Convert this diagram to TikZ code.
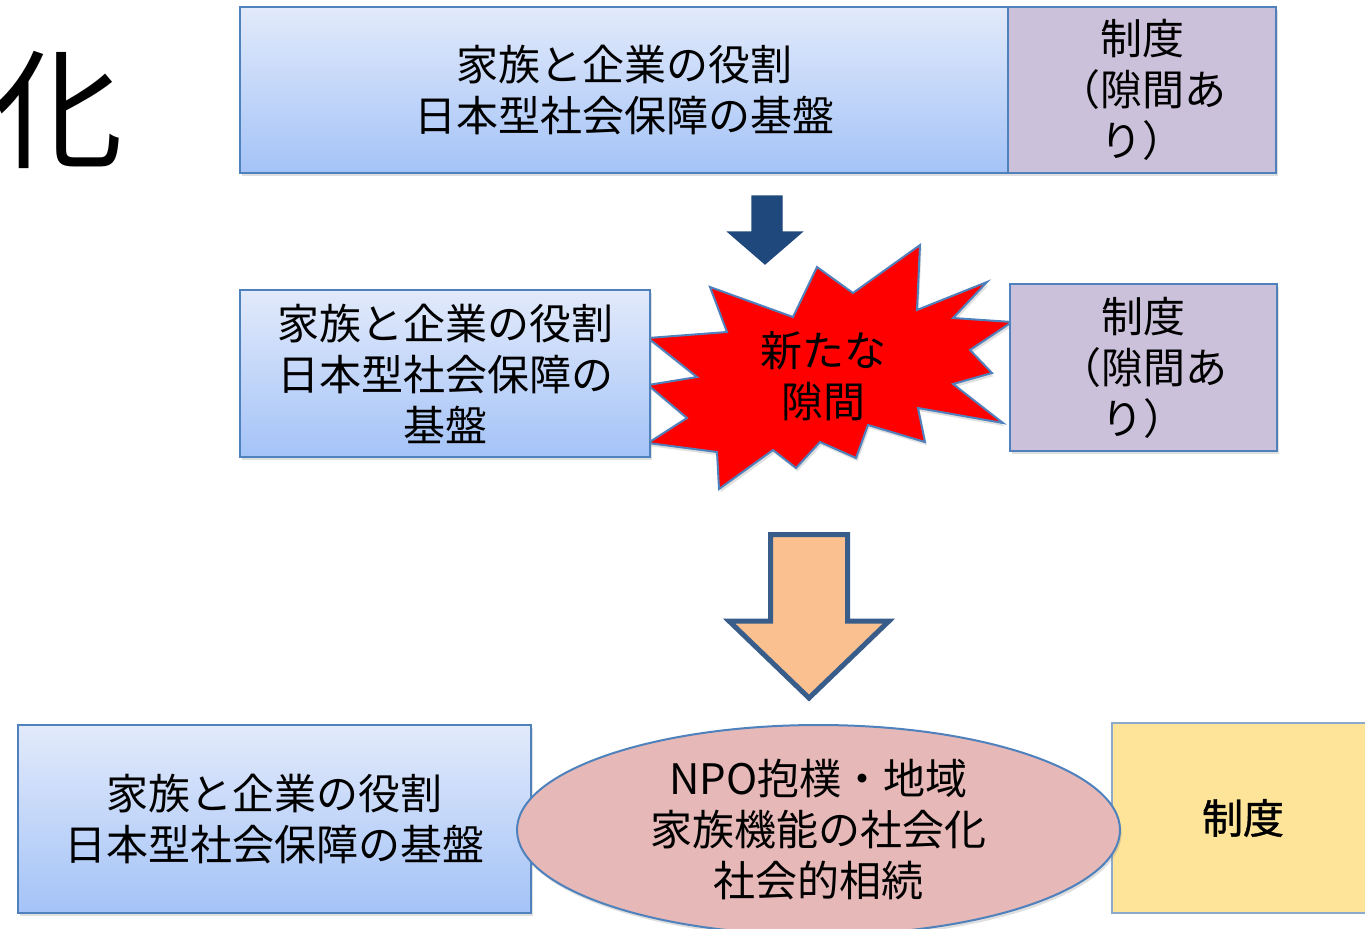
\documentclass[tikz,border=0pt]{standalone}
\usepackage{fontspec}
\newfontfamily\jp{Noto Sans CJK JP}
\newfontfamily\jpb[FakeBold=1]{Noto Sans CJK JP}
\usetikzlibrary{shapes.geometric,shadows}
\definecolor{boxline}{RGB}{79,129,189}
\definecolor{bluetop}{RGB}{226,234,251}
\definecolor{bluebot}{RGB}{164,195,247}
\definecolor{purplefill}{RGB}{204,193,218}
\definecolor{darkblue}{RGB}{31,73,125}
\definecolor{orangefill}{RGB}{250,192,144}
\definecolor{orangeline}{RGB}{56,93,138}
\definecolor{pinkfill}{RGB}{230,184,183}
\definecolor{yellowfill}{RGB}{254,228,153}
\definecolor{yellowline}{RGB}{140,170,205}
\tikzset{
  softshadow/.style={drop shadow={opacity=0.25, shadow xshift=0.8pt, shadow yshift=-1.6pt}},
  jptext/.style={font=\jp\fontsize{21}{25.5}\selectfont, align=center, inner sep=0pt, text=black},
  bluebox/.style={jptext, rectangle, draw=boxline, line width=0.8pt, top color=bluetop, bottom color=bluebot, softshadow},
  purplebox/.style={jptext, rectangle, draw=boxline, line width=0.8pt, fill=purplefill, softshadow},
  yellowbox/.style={jptext, font=\jpb\fontsize{20.5}{25.5}\selectfont, rectangle, draw=yellowline, line width=0.6pt, fill=yellowfill},
  npoellipse/.style={jptext, ellipse, draw=boxline, line width=1pt, fill=pinkfill, softshadow},
  darkarrow/.style={fill=darkblue, draw=darkblue, line width=0.6pt, line join=miter},
  orangearrow/.style={fill=orangefill, draw=orangeline, line width=2.5pt, line join=miter},
  burst/.style={fill=red, draw=boxline, line width=1pt, line join=miter, softshadow},
  bigchar/.style={font=\jp\fontsize{65}{70}\selectfont, inner sep=0pt, text=black}
}
\begin{document}
\begin{tikzpicture}[x=0.5pt,y=-0.5pt]
\path[use as bounding box] (0,0) rectangle (1365,928);
\clip (0,0) rectangle (1365,928);

% title fragment
\node[bigchar] (ka) at (59,110) {化};

% top row
\node[bluebox, minimum width=384pt, minimum height=83pt] (top) at (624,90) {家族と企業の役割\\日本型社会保障の基盤};
\node[purplebox, minimum width=134pt, minimum height=83pt] (topinst) at (1142,90) {制度\\（隙間あ\\り）};

% dark arrow
\filldraw[darkarrow] (752,196) -- (782,196) -- (782,232) -- (802,232) -- (765,264) -- (728,232) -- (752,232) -- cycle;

% starburst
\filldraw[burst] (710,287) -- (793,317) -- (817,267) -- (853,293) -- (920,245) -- (917,310) -- (987,282) -- (953,318) -- (1012,322) -- (970,350) -- (992,373) -- (953,384) -- (1003,423) -- (918,408) -- (925,442) -- (868,425) -- (856,458) -- (820,442) -- (796,468) -- (773,450) -- (719,489) -- (717,452) -- (648,443) -- (687,418) -- (648,385) -- (697,377) -- (648,338) -- (727,332) -- cycle;
\node[jptext] (gap) at (823,376) {新たな\\隙間};

% middle row
\node[bluebox, minimum width=205pt, minimum height=83.5pt] (mid) at (445,373.5) {家族と企業の役割\\日本型社会保障の\\基盤};
\node[purplebox, minimum width=133.5pt, minimum height=83.5pt] (midinst) at (1143.5,367.5) {制度\\（隙間あ\\り）};

% orange arrow
\filldraw[orangearrow] (770.5,534.5) -- (847.5,534.5) -- (847.5,621) -- (889,621) -- (809,698) -- (729,621) -- (770.5,621) -- cycle;

% bottom row
\node[bluebox, minimum width=256.5pt, minimum height=94pt] (bot) at (274.5,819) {家族と企業の役割\\日本型社会保障の基盤};
\node[yellowbox, minimum width=131pt, minimum height=95pt] (inst) at (1243,818) {制度};
\node[npoellipse, minimum width=301.5pt, minimum height=105pt] (npo) at (818.5,830) {NPO抱樸・地域\\家族機能の社会化\\社会的相続};
\end{tikzpicture}
\end{document}
